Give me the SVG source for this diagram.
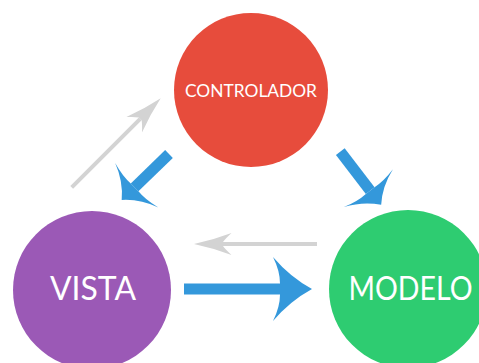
<svg xmlns="http://www.w3.org/2000/svg" width="479" height="363" viewBox="0 0 479 363">
  <style>
    .lbl { font-family: Lato, "Open Sans", "Liberation Sans", sans-serif; fill: #ffffff; text-anchor: middle; }
    .blue { stroke: #3498db; stroke-width: 11; fill: none; }
    .gray { stroke: #d3d3d3; stroke-width: 4; fill: none; }
  </style>
  <defs>
    <marker id="headBig" markerUnits="userSpaceOnUse" orient="auto" viewBox="-10 -35 45 70" markerWidth="45" markerHeight="70" refX="0" refY="0">
      <path d="M32,0 Q10,-12 -7,-32 Q0,-18 0,-5.5 L0,5.5 Q0,18 -7,32 Q10,12 32,0 Z" fill="#3498db"/>
    </marker>
    <marker id="headDiag" markerUnits="userSpaceOnUse" orient="auto" viewBox="-10 -35 35 70" markerWidth="35" markerHeight="70" refX="0" refY="0">
      <path d="M18,0 Q4,-12 -3,-31 Q1,-16 0,-5.5 L0,5.5 Q1,16 -3,31 Q4,12 18,0 Z" fill="#3498db"/>
    </marker>
    <marker id="headGray" markerUnits="userSpaceOnUse" orient="auto" viewBox="-10 -14 42 28" markerWidth="42" markerHeight="28" refX="0" refY="0">
      <path d="M29,0 Q10,-4 -8.5,-11 Q-2,-5 0,-2 L0,2 Q-2,5 -8.5,11 Q10,4 29,0 Z" fill="#d3d3d3"/>
    </marker>
  </defs>

  <g id="controlador">
    <circle cx="251" cy="90" r="77" fill="#e74c3c"/>
    <text class="lbl" x="251" y="96.5" font-size="18" textLength="132" lengthAdjust="spacingAndGlyphs">CONTROLADOR</text>
  </g>
  <g id="vista">
    <circle cx="92" cy="290" r="79" fill="#9b59b6"/>
    <text class="lbl" x="93" y="300" font-size="32" textLength="86" lengthAdjust="spacingAndGlyphs">VISTA</text>
  </g>
  <g id="modelo">
    <circle cx="408" cy="289" r="79" fill="#2ecc71"/>
    <text class="lbl" x="410.5" y="300" font-size="32" textLength="124" lengthAdjust="spacingAndGlyphs">MODELO</text>
  </g>

  <g id="connectors">
    <line class="gray" x1="71.7" y1="187.3" x2="140.2" y2="118.8" marker-end="url(#headGray)"/>
    <line class="gray" x1="317" y1="244" x2="223" y2="244" marker-end="url(#headGray)"/>
    <line class="blue" x1="169" y1="154" x2="134.6" y2="187.4" marker-end="url(#headDiag)"/>
    <line class="blue" x1="340.3" y1="151.7" x2="370.2" y2="190.6" marker-end="url(#headDiag)"/>
    <line class="blue" x1="184" y1="289" x2="280" y2="289" marker-end="url(#headBig)"/>
  </g>
</svg>
